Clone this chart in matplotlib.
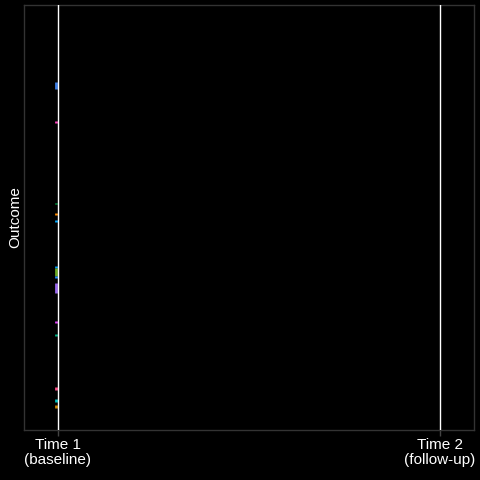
#!/usr/bin/env python
"""Slope chart frame: outcomes at baseline, before lines reach follow-up."""

import matplotlib

matplotlib.use("Agg")
import matplotlib.pyplot as plt
import matplotlib.transforms as mtransforms

plt.rcParams["font.family"] = ["Liberation Sans", "DejaVu Sans"]

time_labels = ["Time 1\n(baseline)", "Time 2\n(follow-up)"]
time_positions = [0, 1]

# baseline outcome spans (low, high) and their group colours
outcome_low = [80.2, 72.2, 53.2, 50.6, 48.9, 38.1, 36.2, 35.8, 32.2, 25.2, 22.1, 9.4, 6.6, 5.2]
outcome_high = [81.9, 72.7, 53.4, 51.1, 49.4, 38.6, 38.1, 36.2, 34.6, 25.6, 22.6, 10.1, 7.3, 5.9]
outcome_colors = [
    "#3d7fe8", "#ff3fbf", "#00c853", "#ff8c00", "#00a8ff", "#00a0ff", "#6aa820",
    "#1e90ff", "#9966ee", "#e040fb", "#00b386", "#ff4d88", "#00bfbf", "#cc8800",
]


def main() -> None:
    fig = plt.figure(figsize=(4.8, 4.8), dpi=100, facecolor="black")
    ax = fig.add_axes([0.05, 0.1042, 0.9375, 0.8854], facecolor="black")

    for x in time_positions:
        ax.axvline(x, color="white", lw=1.0, zorder=3)

    shift = mtransforms.ScaledTranslation(-1.5 / 100, 0, fig.dpi_scale_trans)
    ax.vlines(
        [time_positions[0]] * len(outcome_low),
        outcome_low,
        outcome_high,
        colors=outcome_colors,
        lw=2.0,
        capstyle="butt",
        transform=ax.transData + shift,
        zorder=2,
    )

    ax.set_xlim(-0.089, 1.089)
    ax.set_ylim(0, 100)
    ax.set_xticks(time_positions)
    ax.set_xticklabels(time_labels, color="white", fontsize=11, linespacing=1.05)
    ax.set_yticks([])
    ax.tick_params(axis="x", colors="#444444", length=4, width=1, pad=2, labelcolor="white")
    for spine in ax.spines.values():
        spine.set_color("#333333")
        spine.set_linewidth(1.0)
    ax.set_ylabel("Outcome", color="white", fontsize=11, labelpad=1)

    fig.savefig("out.png", facecolor="black")
    plt.close(fig)


if __name__ == "__main__":
    main()
